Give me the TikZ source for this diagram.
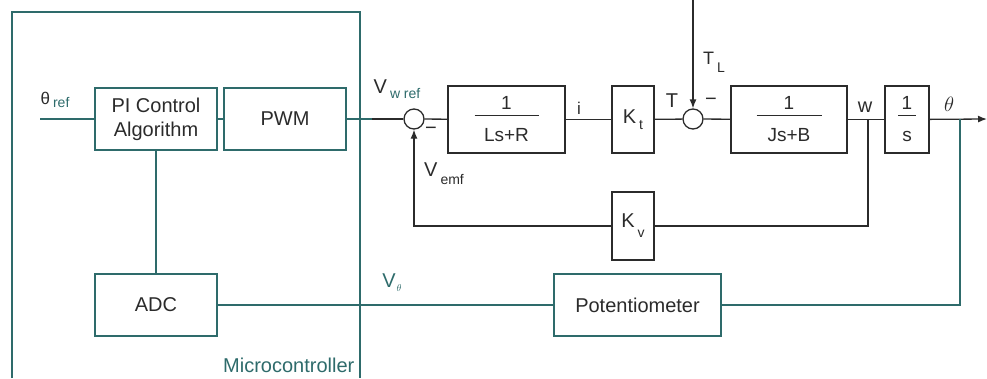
\documentclass[tikz,border=0pt]{standalone}
\usepackage{fontspec}
\setmainfont{Liberation Sans}
\usetikzlibrary{arrows.meta}
\definecolor{mcteal}{HTML}{2E6B6B}
\definecolor{inkgray}{HTML}{2B2B2B}
\newcommand{\dn}[2]{\hspace{3pt}\raisebox{-#1}{\fontsize{14}{14}\selectfont #2}}
\newcommand{\bfrac}[3]{#1\\\rule[10pt]{#3}{0.8pt}\\#2}

\begin{document}
\begin{tikzpicture}[x=1pt, y=-1pt, >={Latex[length=9pt,width=7pt]}, line width=1.3pt,
  font=\fontsize{20}{24}\selectfont,
  mcblock/.style={draw=mcteal, text=inkgray, minimum height=62pt, align=center, inner sep=0pt},
  motblock/.style={draw=inkgray, text=inkgray, minimum height=67pt, align=center, inner sep=0pt},
  fracblock/.style={motblock, font=\fontsize{19}{16}\selectfont},
  sumpt/.style={draw=inkgray, circle, minimum size=20pt, inner sep=0pt},
  lbl/.style={inner sep=0pt, text=inkgray}]
  \useasboundingbox (0,0) rectangle (987,378);
  % ---- microcontroller ----
  \draw[mcteal] (12,378) -- (12,12) -- (360,12) -- (360,378);
  \node[lbl, text=mcteal, anchor=base east] (mcname) at (355,372) {Microcontroller};
  \node[mcblock, minimum width=122pt] (pi) at (156,119) {PI Control\\Algorithm};
  \node[mcblock, minimum width=122pt] (pwm) at (285,119) {PWM};
  \node[mcblock, minimum width=122pt] (adc) at (156,305) {ADC};
  \node[mcblock, minimum width=167pt] (pot) at (637.5,305) {Potentiometer};
  % ---- motor model ----
  \node[sumpt] (s1) at (414,119) {};
  \node[fracblock, minimum width=117pt] (coil) at (506.5,119.5) {\bfrac{1}{Ls+R}{64pt}};
  \node[motblock, minimum width=42pt] (kt) at (633,119.5) {K\dn{6pt}{t}};
  \node[sumpt] (s2) at (693,119) {};
  \node[fracblock, minimum width=116pt] (mech) at (789,119.5) {\bfrac{1}{Js+B}{65pt}};
  \node[fracblock, minimum width=44pt] (integ) at (907,119.5) {\bfrac{1}{s}{18pt}};
  \node[motblock, minimum width=42pt, minimum height=68pt] (kv) at (633,226) {K\dn{10pt}{v}};
  % ---- free ends and branch points ----
  \coordinate (thin) at (40,119);
  \coordinate (vref) at (372,119);
  \coordinate (tl) at (693,0);
  \coordinate (wpt) at (868,119);
  \coordinate (thpt) at (960,119);
  \coordinate (out) at (987,119);
  % ---- connections ----
  \draw[mcteal] (thin) -- (pi);
  \draw[mcteal] (pi) -- (pwm);
  \draw[mcteal] (pi) -- (adc);
  \draw[mcteal] (pwm) -- (vref);
  \draw[inkgray] (vref) -- (s1);
  \draw[inkgray] (s1) -- (coil);
  \draw[inkgray] (coil) -- (kt);
  \draw[inkgray] (kt) -- (s2);
  \draw[inkgray] (s2) -- (mech);
  \draw[inkgray] (mech) -- (integ);
  \draw[->, inkgray] (integ) -- (out);
  \draw[->, inkgray] (tl) -- (s2);
  \draw[inkgray] (wpt) |- (kv);
  \draw[->, inkgray] (kv) -| (s1);
  \draw[mcteal] (thpt) |- (pot);
  \draw[mcteal] (pot) -- (adc);
  % ---- signal labels ----
  \node[lbl, font=\fontsize{17}{17}\selectfont] (thref) at (55,100) {θ\dn{3pt}{\textcolor{mcteal}{ref}}};
  \node[lbl] (vwref) at (397,89) {V\dn{5pt}{\textcolor{mcteal}{w ref}}};
  \node[lbl] (minus1) at (431,131) {−};
  \node[lbl, font=\fontsize{17}{17}\selectfont] (ilbl) at (579,108) {i};
  \node[lbl] (tlbl) at (672,101) {T};
  \node[lbl, font=\fontsize{18}{18}\selectfont] (tload) at (714,62) {T\dn{8pt}{L}};
  \node[lbl] (minus2) at (711,102) {−};
  \node[lbl] (wlbl) at (865,107) {w};
  \node[lbl] (thlbl) at (949,104) {$\theta$};
  \node[lbl] (vemf) at (444,174) {V\dn{8pt}{emf}};
  \node[lbl, text=mcteal] (vth) at (392,283) {V\hspace{-2pt}\dn{4pt}{$\scriptstyle\theta$}};
\end{tikzpicture}
\end{document}
